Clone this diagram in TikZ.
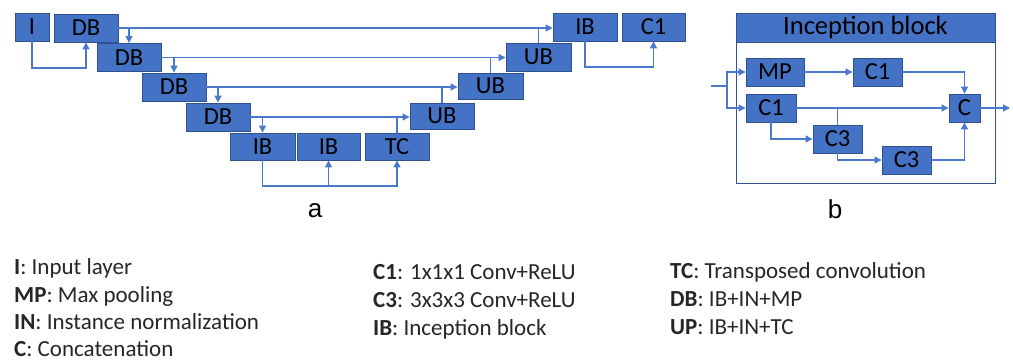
\documentclass[tikz,border=0pt]{standalone}
\usepackage{fontspec}
\setmainfont{Carlito}
\newfontfamily\labfont{Liberation Sans}
\usetikzlibrary{arrows.meta}
\definecolor{blu}{HTML}{4472C4}
\definecolor{bdr}{HTML}{2F528F}
\definecolor{lin}{HTML}{4A78CC}
\begin{document}
\begin{tikzpicture}[x=1pt,y=-1pt,
  box/.style={draw=bdr,fill=blu,line width=0.9pt,inner sep=0pt,minimum height=28pt,minimum width=64pt,font=\fontsize{24.5}{26}\selectfont,text=black},
  conn/.style={draw=lin,line width=1.2pt},
  arr/.style={conn,-{Triangle[length=7pt,width=7pt]}},
  leg/.style={anchor=base west,inner sep=0pt,font=\fontsize{23}{26}\selectfont,text=black!85},
  panellabel/.style={font=\labfont\fontsize{26}{30}\selectfont}]
\useasboundingbox (0,0) rectangle (1013,363);
% ---- panel a ----
\node[box,minimum width=34pt] (I) at (32,27) {I};
\node[box] (DB1) at (86,28) {DB};
\node[box] (DB2) at (129,57.5) {DB};
\node[box] (DB3) at (174,87) {DB};
\node[box] (DB4) at (218,117) {DB};
\node[box,minimum width=65pt,minimum height=27pt] (IB1) at (262.5,146.5) {IB};
\node[box,minimum width=63pt,minimum height=27pt] (IB2) at (328.5,146.5) {IB};
\node[box,minimum height=27pt] (TC) at (397,146.5) {TC};
\node[box,minimum height=26pt] (UB1) at (442,116) {UB};
\node[box,minimum width=65pt,minimum height=26pt] (UB2) at (490.5,86) {UB};
\node[box,minimum width=65pt] (UB3) at (538.5,57) {UB};
\node[box] (IBt) at (585,27) {IB};
\node[box,minimum width=63pt] (C1) at (653.5,27) {C1};

\draw[arr] (I.south) -- (I.south |- 0,68) -| (DB1.south);
\draw[arr] (DB1.east) -- (DB1.east -| IBt.west);
\draw[arr] (DB1.east -| DB2.north) -- (DB2.north);
\draw[arr] (DB2.east) -- (DB2.east -| UB3.west);
\draw[arr] (DB2.east -| DB3.north) -- (DB3.north);
\draw[arr] (DB3.east) -- (DB3.east -| UB2.west);
\draw[arr] (DB3.east -| DB4.north) -- (DB4.north);
\draw[arr] (DB4.east) -- (DB4.east -| UB1.west);
\draw[arr] (DB4.east -| IB1.north) -- (IB1.north);
\draw[arr] (IB1.south) -- (IB1.south |- 0,186) -| (TC.south);
\draw[arr] (IB2.south |- 0,186) -- (IB2.south);
\draw[conn] (TC.north) -- (TC.north |- DB4.east);
\draw[conn] (UB1.north) -- (UB1.north |- DB3.east);
\draw[conn] (UB2.north) -- (UB2.north |- DB2.east);
\draw[conn] (UB3.north) -- (UB3.north |- DB1.east);
\draw[arr] (IBt.south) -- (IBt.south |- 0,67) -| (C1.south);
\node[panellabel] (la) at (315,211) {a};

% ---- panel b ----
\node[draw=bdr,line width=0.9pt,fill=white,minimum width=259pt,minimum height=170pt,inner sep=0pt] (frame) at (865.5,98) {};
\node[box,minimum width=259pt,minimum height=29pt,font=\fontsize{26.5}{28}\selectfont] (title) at (865.5,27.5) {Inception block};
\node[box,minimum width=58pt] (MP) at (775,72) {MP};
\node[box,minimum width=49pt] (C1a) at (877.5,72) {C1};
\node[box,minimum width=50pt] (C1b) at (771,108) {C1};
\node[box,minimum width=31pt] (C) at (964.5,108) {C};
\node[box,minimum width=49pt] (C3a) at (837.5,139) {C3};
\node[box,minimum width=49pt] (C3b) at (906.5,160) {C3};
\coordinate (in) at (711,86);
\coordinate (sp) at (727,86);
\coordinate (out) at (1010,108);
\draw[conn] (in) -- (sp);
\draw[arr] (sp) |- (MP.west);
\draw[arr] (sp) |- (C1b.west);
\draw[arr] (MP.east) -- (C1a.west);
\draw[arr] (C1a.east) -| (C.north);
\draw[arr] (C1b.east) -- (C.west);
\draw[conn] (C3a.north) -- (C3a.north |- C1b.east);
\draw[arr] (C1b.south) |- (C3a.west);
\draw[arr] (C3a.south) |- (C3b.west);
\draw[arr] (C3b.east) -| (C.south);
\draw[arr] (C.east) -- (out);
\node[panellabel] (lb) at (835,209) {b};

% ---- legend ----
\node[leg] (l1) at (14,275) {\textbf{I}: Input layer};
\node[leg] (l2) at (14,302.5) {\textbf{MP}: Max pooling};
\node[leg] (l3) at (14,330) {\textbf{IN}: Instance normalization};
\node[leg] (l4) at (14,357) {\textbf{C}: Concatenation};
\node[leg] (l5) at (373,280) {\textbf{C1}: 1x1x1 Conv+ReLU};
\node[leg] (l6) at (373,308) {\textbf{C3}: 3x3x3 Conv+ReLU};
\node[leg] (l7) at (373,336) {\textbf{IB}: Inception block};
\node[leg] (l8) at (670,279) {\textbf{TC}: Transposed convolution};
\node[leg] (l9) at (670,307) {\textbf{DB}: IB+IN+MP};
\node[leg] (l10) at (670,335) {\textbf{UP}: IB+IN+TC};
\end{tikzpicture}
\end{document}
